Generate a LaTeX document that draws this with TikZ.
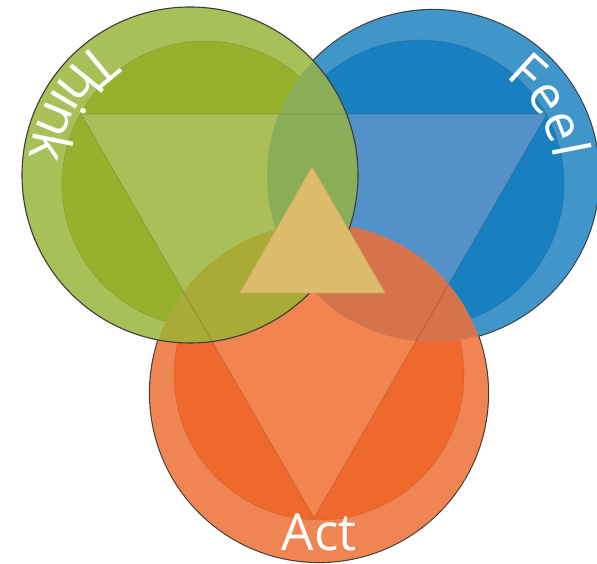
\documentclass[tikz,border=0pt]{standalone}
\usepackage{fontspec}
\setmainfont{Open Sans}
\usetikzlibrary{decorations.text}
\definecolor{gOut}{HTML}{A8C058}
\definecolor{gIn}{HTML}{96B12C}
\definecolor{gTri}{HTML}{AABF58}
\definecolor{bOut}{HTML}{4096C8}
\definecolor{bIn}{HTML}{187FC0}
\definecolor{bTri}{HTML}{5391C8}
\definecolor{oOut}{HTML}{F08554}
\definecolor{oIn}{HTML}{EF692D}
\definecolor{oTri}{HTML}{F2854F}
\definecolor{gbOv}{HTML}{8AAD57}
\definecolor{goOv}{HTML}{A8AB35}
\definecolor{obOv}{HTML}{D5734B}
\definecolor{gboOv}{HTML}{B2914A}
\definecolor{cTri}{HTML}{DCBB6D}
\definecolor{cTriEdge}{HTML}{D2AE62}
\definecolor{edgeCol}{HTML}{3C3C3C}
\newcommand{\labelfont}{\fontsize{51}{51}\selectfont}
\newcommand{\arcfont}{\fontsize{54}{54}\selectfont}
\newcommand{\feelfont}{\fontsize{52}{52}\selectfont}
\tikzset{
  outline/.style={draw=edgeCol, line width=1.1pt},
  outlineunder/.style={draw=edgeCol, line width=2.2pt},
  inneredge/.style={draw=black, draw opacity=0.10, line width=0.7pt},
  triedge/.style={draw=black, draw opacity=0.16, line width=0.8pt, line join=round},
  label/.style={text=white, font=\labelfont, inner sep=0pt},
}
\begin{document}
\begin{tikzpicture}[x=1pt,y=1pt]
\useasboundingbox (0,0) rectangle (597,564);
% centres
\coordinate (G) at (190,389);
\coordinate (Gi) at (205,380);
\coordinate (B) at (433,388);
\coordinate (Bi) at (420,380);
\coordinate (O) at (319,171);
\coordinate (Oi) at (319,189);
% big triangle
\coordinate (T1) at (81,450);
\coordinate (T2) at (547,450);
\coordinate (T3) at (314,46);
% centre triangle
\coordinate (C1) at (312,397);
\coordinate (C2) at (240,271);
\coordinate (C3) at (385,271);

% outlines underneath (blue and orange)
\draw[outlineunder] (B) circle[radius=166];
\draw[outlineunder] (O) circle[radius=169];

% blue circle
\fill[bOut] (B) circle[radius=166];
\fill[bIn] (Bi) circle[radius=144];
\begin{scope}
  \clip (Bi) circle[radius=144];
  \fill[bTri] (T1) -- (T2) -- (T3) -- cycle;
\end{scope}
\draw[inneredge] (Bi) circle[radius=144];

% orange circle
\fill[oOut] (O) circle[radius=169];
\fill[oIn] (Oi) circle[radius=145];
\begin{scope}
  \clip (Oi) circle[radius=145];
  \fill[oTri] (T1) -- (T2) -- (T3) -- cycle;
\end{scope}
\draw[inneredge] (Oi) circle[radius=145];

% green circle
\fill[gOut] (G) circle[radius=168];
\fill[gIn] (Gi) circle[radius=143];
\begin{scope}
  \clip (Gi) circle[radius=143];
  \fill[gTri] (T1) -- (T2) -- (T3) -- cycle;
\end{scope}
\draw[inneredge] (Gi) circle[radius=143];

% overlaps
\begin{scope}
  \clip (G) circle[radius=168];
  \fill[gbOv] (B) circle[radius=166];
\end{scope}
\begin{scope}
  \clip (G) circle[radius=168];
  \fill[goOv] (O) circle[radius=169];
\end{scope}
\begin{scope}
  \clip (O) circle[radius=169];
  \fill[obOv] (B) circle[radius=166];
\end{scope}
\begin{scope}
  \clip (G) circle[radius=168];
  \clip (O) circle[radius=169];
  \fill[gboOv] (B) circle[radius=166];
\end{scope}

% faint triangle edges
\draw[triedge] (T1) -- (T2) -- (T3) -- cycle;

% green outline on top
\draw[outline] (G) circle[radius=168];

% centre triangle
\filldraw[fill=cTri, draw=cTriEdge, line width=0.8pt, line join=round] (C1) -- (C2) -- (C3) -- cycle;

% labels
\path[postaction={decorate}, decoration={text along path, text align=center, text color=white, text={|\arcfont|Think}}]
  (G) ++(105:161) arc[start angle=105, end angle=193, radius=161];
\path[postaction={decorate}, decoration={text along path, text align=center, text color=white, text={|\feelfont|Feel}}]
  (B) ++(76:122) arc[start angle=76, end angle=-14, radius=122];
\node[label, anchor=base] (act) at (319,13) {Act};
\end{tikzpicture}
\end{document}
